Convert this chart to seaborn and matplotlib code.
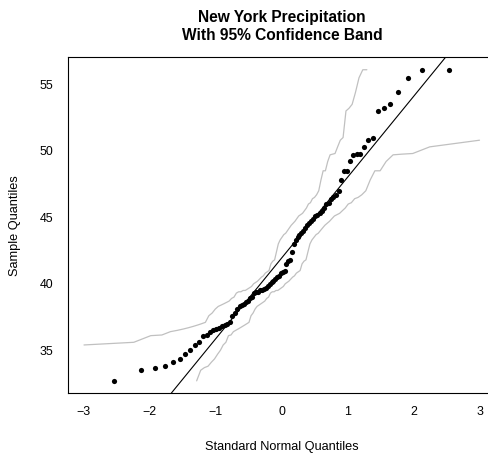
import numpy as np
import pandas as pd
import matplotlib
matplotlib.use("Agg")
import matplotlib.pyplot as plt
import seaborn as sns
from statistics import NormalDist

# Annual precipitation in New York (inches), sorted ascending
precip = [
    32.7, 33.5, 33.7, 33.8, 34.1, 34.35, 34.7, 35.0, 35.4, 35.6,
    36.1, 36.15, 36.4, 36.5, 36.6, 36.7, 36.8, 36.9, 37.0, 37.1,
    37.6, 37.8, 38.1, 38.3, 38.4, 38.5, 38.6, 38.7, 38.9, 39.0,
    39.3, 39.4, 39.4, 39.5, 39.5, 39.6, 39.7, 39.8, 40.0, 40.1,
    40.2, 40.35, 40.5, 40.6, 40.8, 40.9, 41.0, 41.5, 41.7, 41.8,
    42.4, 43.0, 43.3, 43.5, 43.7, 43.8, 44.0, 44.2, 44.4, 44.55,
    44.7, 44.9, 45.1, 45.2, 45.3, 45.5, 45.7, 46.0, 46.1, 46.4,
    46.5, 46.7, 47.0, 47.8, 48.5, 48.5, 49.2, 49.7, 49.75, 49.8,
    50.3, 50.8, 51.0, 53.0, 53.2, 53.5, 54.4, 55.5, 56.1, 56.1,
]

x_ticks = [-3, -2, -1, 0, 1, 2, 3]
y_ticks = [35, 40, 45, 50, 55]

# reference line
line_intercept = 41.95
line_slope = 6.08

# half-width of the 95% band on the probability scale: D = coef / sqrt(n)
band_coef = 0.883

title_text = "New York Precipitation\nWith 95% Confidence Band"
xlabel_text = "Standard Normal Quantiles"
ylabel_text = "Sample Quantiles"

# ---------------------------------------------------------------------------
n = len(precip)
nd = NormalDist()
y = np.sort(np.asarray(precip, dtype=float))
p = (np.arange(1, n + 1) - 0.5) / n
theo = np.array([nd.inv_cdf(v) for v in p])

d = band_coef / np.sqrt(n)
up_mask = (p - d) > 0
lo_mask = (p + d) < 1
upper = pd.DataFrame({"x": [nd.inv_cdf(v) for v in (p - d)[up_mask]], "y": y[up_mask]})
lower = pd.DataFrame({"x": [nd.inv_cdf(v) for v in (p + d)[lo_mask]], "y": y[lo_mask]})
pts = pd.DataFrame({"theo": theo, "sample": y})

sns.set_theme(style="white")
plt.rcParams["font.family"] = ["Liberation Sans", "DejaVu Sans"]
plt.rcParams["text.color"] = "black"

W, H = 488, 457
fig = plt.figure(figsize=(W / 100, H / 100), dpi=100)

# plot region in pixels (right edge runs past the image border)
left_px, right_px, top_px, bottom_px = 67.9, 495.6, 57.3, 393.3
ax = fig.add_axes([left_px / W, 1 - bottom_px / H,
                   (right_px - left_px) / W, (bottom_px - top_px) / H])

band_kw = dict(color="#c0c0c0", linewidth=0.9, sort=False, estimator=None, ax=ax)
sns.lineplot(data=upper, x="x", y="y", **band_kw)
sns.lineplot(data=lower, x="x", y="y", **band_kw)

ax.axline((0, line_intercept), slope=line_slope, color="black", linewidth=0.8)

sns.scatterplot(data=pts, x="theo", y="sample", color="black", s=14,
                linewidth=0, ax=ax, zorder=3)

yr = y.max() - y.min()
ax.set_xlim(-3.24, 3.24)
ax.set_ylim(y.min() - 0.04 * yr, y.max() + 0.04 * yr)

ax.set_xticks(x_ticks)
ax.set_yticks(y_ticks)
ax.set_xticklabels([str(t).replace("-", "\u2212") for t in x_ticks])
ax.set_yticklabels([str(t) for t in y_ticks])
ax.tick_params(axis="both", direction="out", length=5.2, width=0.72,
               color="black", labelsize=8.9, labelcolor="black")
ax.tick_params(axis="x", pad=3.8)
ax.tick_params(axis="y", pad=5.0)
for s in ax.spines.values():
    s.set_visible(True)
    s.set_color("black")
    s.set_linewidth(0.8)
ax.set_xlabel("")
ax.set_ylabel("")

t1, t2 = title_text.split("\n")
fig.text(282 / W, 1 - 17.5 / H, t1, ha="center", va="center",
         fontsize=11.2, fontweight="bold", color="black")
fig.text(282 / W, 1 - 35.5 / H, t2, ha="center", va="center",
         fontsize=11.2, fontweight="bold", color="black")
fig.text(281.5 / W, 1 - 447 / H, xlabel_text, ha="center", va="center",
         fontsize=9.2, color="black")
fig.text(15 / W, 1 - 225.5 / H, ylabel_text, ha="center", va="center",
         rotation=90, fontsize=9.2, color="black")

fig.savefig("out.png", dpi=100)
